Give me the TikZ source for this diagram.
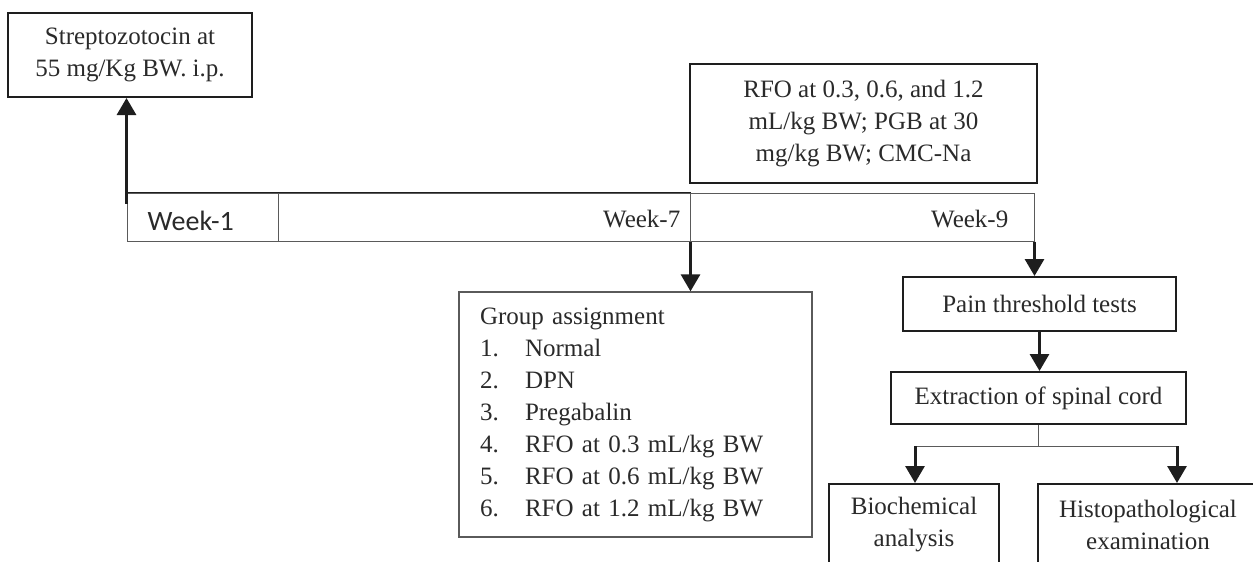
\documentclass[tikz,border=0pt]{standalone}
\usepackage{fontspec}
\setmainfont{Liberation Serif}
\newfontfamily\calib{Carlito}
\usetikzlibrary{arrows.meta}
\definecolor{boxline}{HTML}{1E1E1E}
\definecolor{txt}{HTML}{2A2A2A}
\definecolor{thinline}{HTML}{5A5A5A}
\tikzset{
  every node/.style={text=txt, font=\fontsize{25}{32}\selectfont},
  mainbox/.style={draw=boxline, line width=2pt, rectangle, inner sep=0pt, align=center},
  listbox/.style={draw=thinline, line width=1.3pt, rectangle, inner xsep=21pt, inner ysep=0pt, align=left},
  cellbox/.style={draw=thinline, line width=1pt, rectangle, inner sep=0pt, minimum height=48pt},
  arr/.style={draw=boxline, line width=3pt, -{Triangle[width=19pt,length=17pt]}},
  thinconn/.style={draw=thinline, line width=1pt},
  weeksans/.style={font=\calib\fontsize{28}{32}\selectfont, inner sep=0pt},
  weekserif/.style={inner sep=0pt}
}
\begin{document}
\begin{tikzpicture}[x=1pt,y=-1pt]
\useasboundingbox (0,0) rectangle (1253,562);
\clip (0,0) rectangle (1253,562);
\fill[white] (0,0) rectangle (1253,562);

% top boxes
\node[mainbox, minimum width=244pt, minimum height=84pt] (strep) at (130,55)
  {Streptozotocin at\\55 mg/Kg BW. i.p.};
\node[mainbox, minimum width=347pt, minimum height=119pt] (rfo) at (863.5,123.5)
  {RFO at 0.3, 0.6, and 1.2\\mL/kg BW; PGB at 30\\mg/kg BW; CMC-Na};

% timeline
\node[cellbox, minimum width=151pt] (week1) at (202.5,217) {};
\node[cellbox, minimum width=412pt] (week7) at (484,217) {};
\node[cellbox, minimum width=344pt] (week9) at (862,217) {};
\draw[boxline, line width=1.6pt] (week1.north west) -- (week7.north east);
\node[weeksans, anchor=west] (w1lab) at ([xshift=21pt,yshift=-4pt]week1.west) {Week-1};
\node[weekserif, anchor=east] (w7lab) at ([xshift=-10pt,yshift=-2pt]week7.east) {Week-7};
\node[weekserif, anchor=east] (w9lab) at ([xshift=-26pt,yshift=-2pt]week9.east) {Week-9};

% group box
\node[listbox, minimum width=353pt, minimum height=245pt, text width=311pt] (group) at (635.5,414.5)
  {Group assignment\\
   \makebox[45pt][l]{1.}Normal\\
   \makebox[45pt][l]{2.}DPN\\
   \makebox[45pt][l]{3.}Pregabalin\\
   \makebox[45pt][l]{4.}RFO at 0.3 mL/kg BW\\
   \makebox[45pt][l]{5.}RFO at 0.6 mL/kg BW\\
   \makebox[45pt][l]{6.}RFO at 1.2 mL/kg BW};

% right flow
\node[mainbox, minimum width=273pt, minimum height=54pt] (pain) at (1039.5,304) {Pain threshold tests};
\node[mainbox, minimum width=295pt, minimum height=52pt] (extr) at (1038.5,398) {Extraction of spinal cord};
\node[mainbox, minimum width=170pt, minimum height=81pt] (bio) at (914,524.5) {Biochemical\\analysis};
\node[mainbox, minimum width=220pt, minimum height=81pt] (histo) at (1148,524.5) {Histopathological\\examination};

% connectors
\draw[arr] ([yshift=-11pt]week1.north west) -- (week1.north west |- strep.south);
\draw[arr] (week7.south east) -- (week7.south east |- group.north);
\draw[arr] (week9.south east) -- (week9.south east |- pain.north);
\draw[arr] (pain.south) -- (pain.south |- extr.north);
\coordinate (split) at (1038.5,446);
\coordinate (bl) at (915,446);
\coordinate (hr) at (1177,446);
\draw[thinconn] (extr.south) -- (split);
\draw[thinconn] (bl) -- (hr);
\draw[arr] (bl) -- (bl |- bio.north);
\draw[arr] (hr) -- (hr |- histo.north);
\end{tikzpicture}
\end{document}
